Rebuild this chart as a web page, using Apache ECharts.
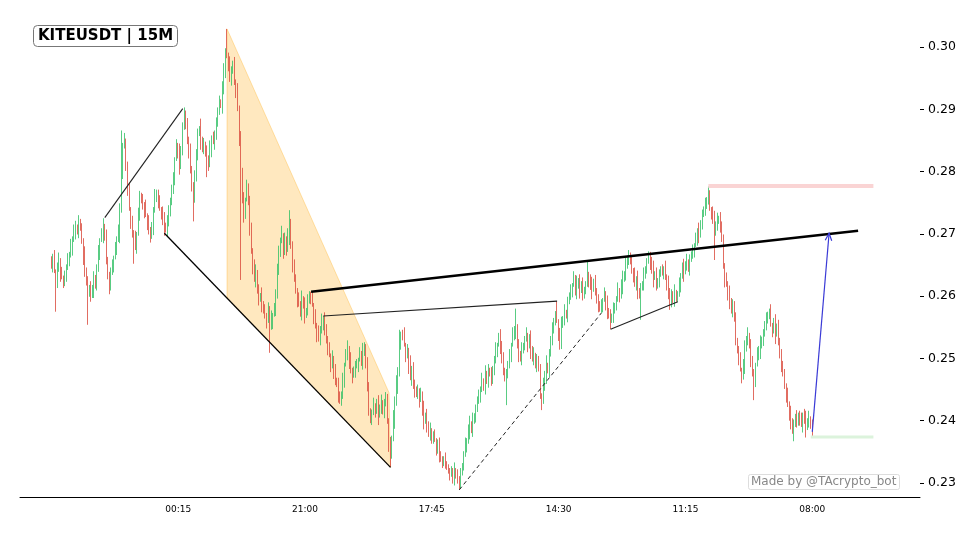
<!DOCTYPE html>
<html>
<head>
<meta charset="utf-8">
<script src="https://cdn.jsdelivr.net/npm/echarts@6/dist/echarts.min.js"></script>
<style>
html, body { margin: 0; padding: 0; background: #fff; }
#chart { width: 980px; height: 539px; }
</style>
</head>
<body>
<div id="chart"></div>
<script>
// 15m candles, prices in basis points (0.0001)
var PAD = 20, LAST = 568;
var firstOpen = 2655;
var closesBp = [
  2650, 2662, 2640, 2628, 2645, 2655, 2635, 2630, 2622, 2632,
  2645, 2660, 2668, 2680, 2690, 2700, 2712, 2705, 2718, 2708,
  2690, 2665, 2640, 2620, 2605, 2615, 2600, 2612, 2625, 2618,
  2645, 2670, 2690, 2700, 2710, 2695, 2660, 2630, 2615, 2640,
  2650, 2662, 2675, 2690, 2700, 2740, 2800, 2840, 2850, 2810,
  2770, 2740, 2720, 2700, 2690, 2680, 2700, 2730, 2760, 2755,
  2745, 2740, 2730, 2718, 2705, 2695, 2710, 2740, 2760, 2765,
  2750, 2740, 2735, 2720, 2712, 2705, 2718, 2740, 2755, 2770,
  2790, 2820, 2840, 2830, 2810, 2835, 2870, 2895, 2880, 2850,
  2830, 2800, 2780, 2765, 2790, 2830, 2860, 2870, 2850, 2840,
  2845, 2830, 2820, 2810, 2835, 2855, 2850, 2860, 2875, 2900,
  2910, 2905, 2930, 2965, 2995, 2985, 2970, 2950, 2960, 2975,
  2945, 2930, 2900, 2850, 2800, 2755, 2730, 2755, 2772, 2755,
  2706, 2674, 2650, 2626, 2636, 2610, 2594, 2602, 2586, 2578,
  2570, 2560, 2578, 2552, 2562, 2570, 2580, 2605, 2640, 2672,
  2688, 2698, 2672, 2690, 2680, 2700, 2712, 2682, 2650, 2626,
  2610, 2594, 2586, 2576, 2594, 2586, 2568, 2578, 2594, 2602,
  2596, 2586, 2570, 2554, 2538, 2530, 2546, 2560, 2565, 2546,
  2530, 2514, 2505, 2490, 2498, 2482, 2466, 2457, 2441, 2433,
  2441, 2465, 2490, 2506, 2514, 2498, 2482, 2472, 2478, 2490,
  2490, 2498, 2506, 2497, 2510, 2514, 2496, 2450, 2417, 2402,
  2412, 2425, 2417, 2426, 2408, 2420, 2430, 2416, 2426, 2434,
  2401, 2362, 2348, 2370, 2402, 2430, 2455, 2480, 2520, 2540,
  2538, 2522, 2506, 2514, 2490, 2474, 2482, 2457, 2449, 2441,
  2449, 2433, 2441, 2417, 2401, 2410, 2393, 2377, 2385, 2369,
  2377, 2369, 2353, 2361, 2345, 2337, 2333, 2340, 2329, 2324,
  2321, 2313, 2318, 2308, 2321, 2313, 2305, 2300, 2318, 2329,
  2345, 2361, 2369, 2385, 2393, 2383, 2401, 2409, 2417, 2433,
  2441, 2449, 2465, 2457, 2474, 2465, 2482, 2474, 2465, 2482,
  2498, 2514, 2522, 2532, 2522, 2498, 2482, 2466, 2474, 2490,
  2506, 2522, 2538, 2546, 2552, 2522, 2506, 2498, 2514, 2522,
  2530, 2538, 2522, 2530, 2514, 2498, 2506, 2490, 2498, 2482,
  2441, 2430, 2457, 2474, 2490, 2482, 2506, 2530, 2546, 2562,
  2570, 2560, 2540, 2530, 2552, 2562, 2575, 2570, 2590, 2600,
  2610, 2618, 2628, 2610, 2618, 2626, 2608, 2618, 2602, 2612,
  2618, 2636, 2626, 2616, 2610, 2622, 2610, 2594, 2586, 2578,
  2586, 2594, 2602, 2586, 2578, 2570, 2560, 2566, 2578, 2586,
  2594, 2610, 2602, 2618, 2626, 2634, 2650, 2662, 2664, 2654,
  2642, 2634, 2618, 2626, 2610, 2602, 2612, 2618, 2634, 2645,
  2655, 2660, 2654, 2642, 2629, 2634, 2618, 2626, 2634, 2642,
  2639, 2645, 2629, 2618, 2610, 2594, 2602, 2592, 2607, 2597,
  2602, 2618, 2634, 2645, 2638, 2650, 2656, 2645, 2658, 2666,
  2674, 2682, 2690, 2703, 2700, 2719, 2730, 2738, 2746, 2756,
  2758, 2740, 2735, 2722, 2700, 2714, 2722, 2726, 2714, 2690,
  2650, 2626, 2618, 2602, 2594, 2578, 2586, 2562, 2530, 2514,
  2498, 2482, 2472, 2490, 2514, 2530, 2538, 2522, 2498, 2474,
  2466, 2490, 2506, 2514, 2522, 2532, 2538, 2554, 2562, 2572,
  2575, 2554, 2546, 2556, 2538, 2550, 2530, 2506, 2490, 2474,
  2457, 2441, 2425, 2409, 2401, 2385, 2393, 2405, 2398, 2410,
  2401, 2393, 2410, 2401, 2388, 2398, 2404, 2393, 2385
];
// wick lengths beyond the body, one digit per candle, in steps of 3 bp
var upWick = [
  '3241352413', '2314253142', '3152413253', '2413524132', '3142536241',
  '2413251432', '3251423142', '2413524213', '3142523412', '2531423152',
  '3142513241', '4253142531', '3142524153', '2413523142', '3142513243',
  '2514231423', '3142524132', '2413152413', '3241523142', '2413524132',
  '3142513241', '2413524132', '3142536241', '2413152432', '3142513241',
  '2313422132', '2132413221', '2413524132', '3241523142', '2413524132',
  '3142513241', '2413524132', '3142513241', '2413524132', '3142513241',
  '2413524132', '3142513241', '2413524132', '3142513241', '2413524132',
  '3142513241', '2413524132', '3142513241', '2413524132', '3142513241',
  '2413524132', '3142513241', '2413524132', '3142513241', '241352413'
];
var dnWick = [
  '2413524132', '3142513241', '2531423152', '3241523142', '2413152413',
  '3142524132', '2514231423', '3142513243', '2413523142', '3142524153',
  '4253142531', '3142513241', '2413524213', '3251423142', '2413251432',
  '3142536241', '2413524132', '3152413253', '2314253142', '3241352413',
  '2413524132', '3142513241', '2413152432', '3142536241', '2413524132',
  '2132413221', '2313422132', '3142513241', '2413524132', '3241523142',
  '2413524132', '3142513241', '2413524132', '3142513241', '2413524132',
  '3142513241', '2413524132', '3142513241', '2413524132', '3142513241',
  '2413524132', '3142513241', '2413524132', '3142513241', '2413524132',
  '3142513241', '2413524132', '3142513241', '2413524132', '314251324'
];
// long wicks: [candle, price bp]
var highMarks = [[46, 2866], [87, 2903], [115, 3029], [156, 2738], [170, 2607], [178, 2568],
  [205, 2526], [219, 2446], [228, 2546], [304, 2580], [331, 2592], [351, 2658], [378, 2674],
  [392, 2671], [430, 2776], [470, 2580]];
var lowMarks = [[3, 2575], [24, 2554], [54, 2652], [93, 2720], [102, 2791], [124, 2626],
  [143, 2509], [222, 2326], [267, 2289], [298, 2425], [321, 2417], [333, 2514], [360, 2573],
  [366, 2547], [386, 2562], [405, 2578], [410, 2591], [434, 2658], [460, 2433], [486, 2367]];

var tickIdx = [83, 166, 249, 332, 415, 498];
var tickLabels = ['00:15', '21:00', '17:45', '14:30', '11:15', '08:00'];
var yTicks = [0.23, 0.24, 0.25, 0.26, 0.27, 0.28, 0.29, 0.30];

// drawings: [candle, price]
var wedge = [[115, 0.3029], [221, 0.2445], [222, 0.2325], [115, 0.2597]];
var thinLines = [
  [[35, 0.2726], [86, 0.2901]],
  [[74, 0.2701], [222, 0.2325]],
  [[178, 0.2568], [331, 0.2592]],
  [[366, 0.2547], [410, 0.2591]]
];
var thickLine = [[170, 0.2607], [528, 0.2705]];
var dashLine = [[267, 0.2289], [360, 0.2573]];
var redZone = [[430, 0.2777], [538, 0.2777]];
var greenZone = [[497, 0.2374], [538, 0.2374]];
var arrow = [[498, 0.2382], [509, 0.2701]];

var up = upWick.join(''), dn = dnWick.join('');
var hiMap = {}, loMap = {};
highMarks.forEach(function (m) { hiMap[m[0]] = m[1]; });
lowMarks.forEach(function (m) { loMap[m[0]] = m[1]; });

var candles = [];
for (var i = 0; i < PAD; i++) candles.push('-');
closesBp.forEach(function (c, i) {
  var o = i ? closesBp[i - 1] : firstOpen;
  var h = hiMap[i] != null ? hiMap[i] : Math.max(o, c) + 3 * (+up[i] || 0);
  var l = loMap[i] != null ? loMap[i] : Math.min(o, c) - 3 * (+dn[i] || 0);
  candles.push([o / 1e4, c / 1e4, l / 1e4, h / 1e4]);
});

var cats = [];
for (var k = -PAD; k <= LAST; k++) cats.push(String(k));

function shift(pts) {
  return pts.map(function (p) { return [p[0] + PAD, p[1]]; });
}
function isTick(index) {
  return tickIdx.indexOf(index - PAD) >= 0;
}
function seg(pts, style) {
  return {
    type: 'line', data: shift(pts), symbol: 'none', silent: true, z: 4,
    lineStyle: style, animation: false
  };
}

var series = [
  {
    type: 'custom', z: 1, silent: true, clip: false,
    data: [[PAD, 0.26]],
    renderItem: function (params, api) {
      var pts = shift(wedge).map(function (p) { return api.coord(p); });
      return {
        type: 'polygon', shape: { points: pts },
        style: { fill: 'rgba(255,165,0,0.25)', stroke: 'rgba(255,165,0,0.3)', lineWidth: 1 }
      };
    }
  },
  {
    type: 'candlestick', z: 2, data: candles, barWidth: 1,
    itemStyle: {
      color: '#2fbf63', color0: '#d9483a',
      borderColor: '#2fbf63', borderColor0: '#d9483a', borderWidth: 0.8
    }
  },
  seg(redZone, { color: '#fad4d4', width: 4 }),
  seg(greenZone, { color: '#dcf3dc', width: 3 }),
  seg(thinLines[0], { color: '#222', width: 1.1 }),
  seg(thinLines[1], { color: '#000', width: 1.3 }),
  seg(thinLines[2], { color: '#222', width: 1.1 }),
  seg(thinLines[3], { color: '#222', width: 1.1 }),
  seg(thickLine, { color: '#000', width: 2.5 }),
  seg(dashLine, { color: '#222', width: 1, type: [4, 3] }),
  {
    type: 'custom', z: 5, silent: true, clip: false,
    data: [[PAD, 0.26]],
    renderItem: function (params, api) {
      var a = shift(arrow);
      var p0 = api.coord(a[0]), p1 = api.coord(a[1]);
      var ang = Math.atan2(p1[1] - p0[1], p1[0] - p0[0]);
      var L = 8, w = 0.42;
      var h1 = [p1[0] - L * Math.cos(ang - w), p1[1] - L * Math.sin(ang - w)];
      var h2 = [p1[0] - L * Math.cos(ang + w), p1[1] - L * Math.sin(ang + w)];
      return {
        type: 'group', children: [
          { type: 'line', shape: { x1: p0[0], y1: p0[1], x2: p1[0], y2: p1[1] },
            style: { stroke: '#3a3ad6', lineWidth: 1.2 } },
          { type: 'polyline', shape: { points: [h1, p1, h2] },
            style: { stroke: '#3a3ad6', lineWidth: 1.2, fill: null } }
        ]
      };
    }
  }
];

var chart = echarts.init(document.getElementById('chart'));
chart.setOption({
  animation: false,
  backgroundColor: '#fff',
  title: [
    {
      text: 'KITEUSDT | 15M', left: 33, top: 25, padding: [4, 5, 3, 5],
      borderColor: '#777', borderWidth: 1, borderRadius: 4,
      textStyle: { fontFamily: 'DejaVu Sans', fontWeight: 'bold', fontSize: 15, color: '#000' }
    },
    {
      text: 'Made by @TAcrypto_bot', left: 748, top: 474, padding: [2, 3, 2, 3],
      borderColor: '#ddd', borderWidth: 1, borderRadius: 2,
      textStyle: { fontFamily: 'DejaVu Sans', fontWeight: 'normal', fontSize: 12, color: '#888' }
    }
  ],
  grid: { left: 20, right: 60, top: 10, bottom: 42 },
  xAxis: {
    type: 'category', data: cats, boundaryGap: true,
    axisLine: { lineStyle: { color: '#000', width: 1 } },
    axisTick: { alignWithLabel: true, interval: function (idx) { return isTick(idx); }, length: 4, lineStyle: { color: '#000' } },
    axisLabel: {
      interval: function (idx) { return isTick(idx); },
      formatter: function (v) { var j = tickIdx.indexOf(+v); return j >= 0 ? tickLabels[j] : ''; },
      fontFamily: 'DejaVu Sans', fontSize: 9, color: '#000', margin: 8
    },
    splitLine: { show: false }
  },
  yAxis: {
    type: 'value', position: 'right', min: 0.22775, max: 0.30594, scale: true,
    axisLine: { show: false },
    axisTick: { show: true, length: 4, customValues: yTicks, lineStyle: { color: '#000' } },
    axisLabel: {
      customValues: yTicks, fontFamily: 'DejaVu Sans', fontSize: 12.5, color: '#000', margin: 8,
      formatter: function (v) { return v.toFixed(2); }
    },
    splitLine: { show: false }
  },
  series: series
});
</script>
</body>
</html>
